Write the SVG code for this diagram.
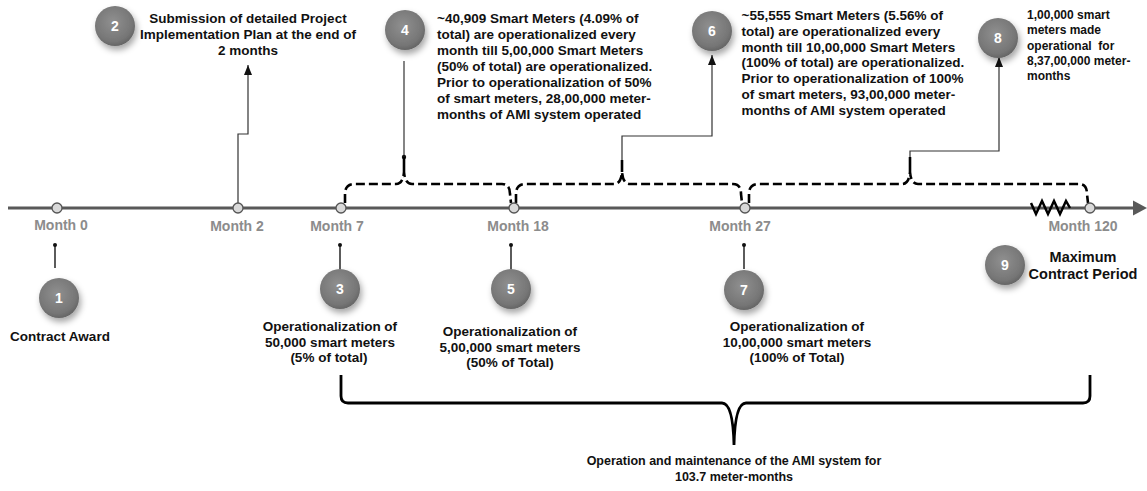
<svg xmlns="http://www.w3.org/2000/svg" width="1147" height="491" viewBox="0 0 1147 491">
<defs>
<radialGradient id="ball" cx="45%" cy="40%" r="60%">
<stop offset="0" stop-color="#909090"/>
<stop offset="0.8" stop-color="#767676"/>
<stop offset="1" stop-color="#666666"/>
</radialGradient>
<filter id="sh" x="-50%" y="-50%" width="200%" height="200%">
<feDropShadow dx="2" dy="4" stdDeviation="3" flood-color="#000" flood-opacity="0.35"/>
</filter>
<marker id="ah" viewBox="0 0 10 8" refX="10" refY="4" markerWidth="10" markerHeight="8" markerUnits="userSpaceOnUse" orient="auto">
<path d="M0,0 L10,4 L0,8 Z" fill="#111"/>
</marker>
</defs>
<style>
text{font-family:"Liberation Sans",Arial,sans-serif;font-weight:bold;fill:#111}
.t{font-size:13.5px}
.s{font-size:12px}
.c{text-anchor:middle}
.m{font-size:14px;fill:#8c8c8c;text-anchor:middle}
.n{font-size:14px;fill:#fff;text-anchor:middle}
.ball{fill:url(#ball);filter:url(#sh)}
.thin{fill:none;stroke:#333;stroke-width:1.2}
.pin{fill:none;stroke:#333;stroke-width:1.6}
.dot{fill:#111}
.brace{fill:none;stroke:#000;stroke-width:2.6;stroke-dasharray:9 4}
.stem{fill:none;stroke:#000;stroke-width:2.6}
.mk{fill:#d9d9d9;stroke:#555;stroke-width:1.3}
</style>

<g id="timeline">
<line x1="8" y1="208" x2="1136" y2="208" stroke="#595959" stroke-width="3"/>
<polygon points="1133,200.5 1147,208 1133,215.5" fill="#595959"/>
<polyline points="1031,203 1036,214 1042,201 1048,214 1054,201 1060,214 1066,201 1070,208" fill="none" stroke="#000" stroke-width="2.5" stroke-linejoin="miter"/>
</g>

<g id="connectors">
<line class="pin" x1="55" y1="245" x2="55" y2="268"/><circle class="dot" cx="55" cy="245" r="2"/>
<line class="pin" x1="340" y1="245" x2="340" y2="269"/><circle class="dot" cx="340" cy="245" r="2"/>
<line class="pin" x1="511" y1="245" x2="511" y2="269"/><circle class="dot" cx="511" cy="245" r="2"/>
<line class="pin" x1="744" y1="245" x2="744" y2="269"/><circle class="dot" cx="744" cy="245" r="2"/>
<polyline class="thin" points="238,203 238,134 248,134 248,65" marker-end="url(#ah)"/>
<line class="thin" x1="404" y1="61" x2="404" y2="157"/>
<circle class="dot" cx="404" cy="157" r="2.2"/>
<line class="stem" x1="404" y1="157" x2="404" y2="172"/>
<polyline class="thin" points="622,162 622,136 712,136 712,55" marker-end="url(#ah)"/>
<line class="stem" x1="622" y1="160" x2="622" y2="172"/>
<polyline class="thin" points="910,158 910,151 999,151 999,57" marker-end="url(#ah)"/>
<line class="stem" x1="910" y1="157" x2="910" y2="172"/>
<path class="brace" d="M345,203 L345,194 Q345,184 355,184 L396,184 Q403,184 404,172 Q405,184 412,184 L502,184 Q510,184 510,194 L511,203"/>
<path class="brace" d="M516,203 L516,194 Q516,184 526,184 L614,184 Q621,184 622,172 Q623,184 630,184 L733,184 Q741,184 741,194 L742,203"/>
<path class="brace" d="M749,203 L749,194 Q749,184 759,184 L902,184 Q909,184 910,172 Q911,184 918,184 L1079,184 Q1087,184 1087,194 L1088,203"/>
<path d="M341,375 L341,396 Q341,403 348,403 L722,403 Q733,403 734,445 Q735,403 746,403 L1083,403 Q1090,403 1090,396 L1090,375" fill="none" stroke="#000" stroke-width="2.8"/>
</g>

<g id="markers">
<circle class="mk" cx="57" cy="208" r="5"/>
<circle class="mk" cx="238" cy="208" r="5"/>
<circle class="mk" cx="341" cy="208" r="5"/>
<circle class="mk" cx="514" cy="208" r="5"/>
<circle class="mk" cx="745" cy="208" r="5"/>
<circle class="mk" cx="1090" cy="208" r="5"/>
</g>

<g id="month-labels">
<text class="m" x="61" y="230">Month 0</text>
<text class="m" x="237" y="230.5">Month 2</text>
<text class="m" x="337" y="230.5">Month 7</text>
<text class="m" x="518" y="230.5">Month 18</text>
<text class="m" x="740" y="230.5">Month 27</text>
<text class="m" x="1083" y="230.5">Month 120</text>
</g>

<g id="node1">
<circle class="ball" cx="59" cy="298" r="20"/>
<text class="n" x="59" y="303">1</text>
<text class="t c" x="60" y="341">Contract Award</text>
</g>

<g id="node2">
<circle class="ball" cx="115" cy="26" r="20"/>
<text class="n" x="115" y="31">2</text>
<text class="t c" x="248" y="23">Submission of detailed Project</text>
<text class="t c" x="248" y="39">Implementation Plan at the end of</text>
<text class="t c" x="248" y="55">2 months</text>
</g>

<g id="node3">
<circle class="ball" cx="340" cy="289" r="20"/>
<text class="n" x="340" y="294">3</text>
<text class="t c" x="330" y="331">Operationalization of</text>
<text class="t c" x="330" y="346.5">50,000 smart meters</text>
<text class="t c" x="329" y="362">(5% of total)</text>
</g>

<g id="node4">
<circle class="ball" cx="405" cy="30" r="20"/>
<text class="n" x="405" y="35">4</text>
<text class="t" x="437" y="22.5">~40,909 Smart Meters (4.09% of</text>
<text class="t" x="437" y="38.5">total) are operationalized every</text>
<text class="t" x="437" y="54.5">month till 5,00,000 Smart Meters</text>
<text class="t" x="437" y="70.5">(50% of total) are operationalized.</text>
<text class="t" x="437" y="86.5">Prior to operationalization of 50%</text>
<text class="t" x="437" y="102.5">of smart meters, 28,00,000 meter-</text>
<text class="t" x="437" y="118.5">months of AMI system operated</text>
</g>

<g id="node5">
<circle class="ball" cx="511" cy="289" r="20"/>
<text class="n" x="511" y="294">5</text>
<text class="t c" x="510" y="336">Operationalization of</text>
<text class="t c" x="510" y="351.5">5,00,000 smart meters</text>
<text class="t c" x="510" y="367">(50% of Total)</text>
</g>

<g id="node6">
<circle class="ball" cx="712" cy="31" r="20"/>
<text class="n" x="712" y="36">6</text>
<text class="t" x="741.5" y="20">~55,555 Smart Meters (5.56% of</text>
<text class="t" x="741.5" y="35.8">total) are operationalized every</text>
<text class="t" x="741.5" y="51.6">month till 10,00,000 Smart Meters</text>
<text class="t" x="741.5" y="67.4">(100% of total) are operationalized.</text>
<text class="t" x="741.5" y="83.2">Prior to operationalization of 100%</text>
<text class="t" x="741.5" y="99">of smart meters, 93,00,000 meter-</text>
<text class="t" x="741.5" y="114.8">months of AMI system operated</text>
</g>

<g id="node7">
<circle class="ball" cx="744" cy="290" r="20"/>
<text class="n" x="744" y="295">7</text>
<text class="t c" x="797" y="331">Operationalization of</text>
<text class="t c" x="797" y="346.5">10,00,000 smart meters</text>
<text class="t c" x="797" y="362">(100% of Total)</text>
</g>

<g id="node8">
<circle class="ball" cx="998" cy="38" r="20"/>
<text class="n" x="998" y="43">8</text>
<text class="s" x="1027" y="18.5">1,00,000 smart</text>
<text class="s" x="1027" y="34">meters made</text>
<text class="s" x="1027" y="49.5" xml:space="preserve">operational  for</text>
<text class="s" x="1027" y="65">8,37,00,000 meter-</text>
<text class="s" x="1027" y="80">months</text>
</g>

<g id="node9">
<circle class="ball" cx="1005" cy="265" r="20"/>
<text class="n" x="1005" y="270">9</text>
<text class="c" x="1083" y="262" font-size="14.5">Maximum</text>
<text class="c" x="1083" y="279" font-size="14.5">Contract Period</text>
</g>

<g id="node-om">
<text class="c" x="734" y="465" font-size="12.5">Operation and maintenance of the AMI system for</text>
<text class="c" x="734" y="481" font-size="12.5">103.7 meter-months</text>
</g>
</svg>
